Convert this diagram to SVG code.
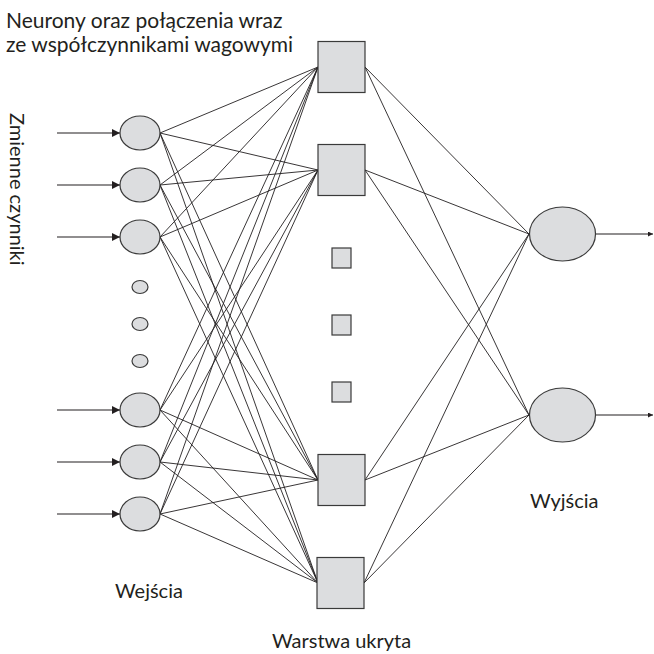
<svg xmlns="http://www.w3.org/2000/svg" width="654" height="654" viewBox="0 0 654 654">
  <defs>
    <marker id="arrow" viewBox="0 0 10 10" refX="10" refY="5" markerWidth="8" markerHeight="8" markerUnits="userSpaceOnUse" orient="auto">
      <path d="M0,0 L10,5 L0,10 z" fill="#231f20"/>
    </marker>
    <marker id="tip" viewBox="0 0 10 10" refX="10" refY="5" markerWidth="5" markerHeight="5" markerUnits="userSpaceOnUse" orient="auto">
      <path d="M0,0 L10,5 L0,10 z" fill="#231f20"/>
    </marker>
  </defs>
  <style>
    .node { fill: #dcdddf; stroke: #3a3a3a; stroke-width: 1.2; }
    .edge { stroke: #231f20; stroke-width: 0.9; fill: none; }
    .io { stroke: #231f20; stroke-width: 1.1; fill: none; }
    .label { font-family: Lato, "Open Sans", sans-serif; font-size: 20px; fill: #231f20; }
    .title { font-size: 21px; }
  </style>
  <rect width="654" height="654" fill="#ffffff"/>

  <!-- connections: inputs to hidden layer, hidden layer to outputs -->
  <g id="connectors">
    <g class="edge">
      <!-- input 1 -->
      <line x1="160" y1="133" x2="318" y2="67"/>
      <line x1="160" y1="133" x2="318" y2="170"/>
      <line x1="160" y1="133" x2="318" y2="480"/>
      <line x1="160" y1="133" x2="318" y2="583"/>
      <!-- input 2 -->
      <line x1="160" y1="185" x2="318" y2="67"/>
      <line x1="160" y1="185" x2="318" y2="170"/>
      <line x1="160" y1="185" x2="318" y2="480"/>
      <line x1="160" y1="185" x2="318" y2="583"/>
      <!-- input 3 -->
      <line x1="160" y1="237" x2="318" y2="67"/>
      <line x1="160" y1="237" x2="318" y2="170"/>
      <line x1="160" y1="237" x2="318" y2="480"/>
      <line x1="160" y1="237" x2="318" y2="583"/>
      <!-- input 4 -->
      <line x1="160" y1="410" x2="318" y2="67"/>
      <line x1="160" y1="410" x2="318" y2="170"/>
      <line x1="160" y1="410" x2="318" y2="480"/>
      <line x1="160" y1="410" x2="318" y2="583"/>
      <!-- input 5 -->
      <line x1="160" y1="462" x2="318" y2="67"/>
      <line x1="160" y1="462" x2="318" y2="170"/>
      <line x1="160" y1="462" x2="318" y2="480"/>
      <line x1="160" y1="462" x2="318" y2="583"/>
      <!-- input 6 -->
      <line x1="160" y1="514" x2="318" y2="67"/>
      <line x1="160" y1="514" x2="318" y2="170"/>
      <line x1="160" y1="514" x2="318" y2="480"/>
      <line x1="160" y1="514" x2="318" y2="583"/>
      <!-- hidden to outputs -->
      <line x1="365" y1="67" x2="529" y2="234"/>
      <line x1="365" y1="67" x2="529" y2="415"/>
      <line x1="365" y1="170" x2="529" y2="234"/>
      <line x1="365" y1="170" x2="529" y2="415"/>
      <line x1="365" y1="480" x2="529" y2="234"/>
      <line x1="365" y1="480" x2="529" y2="415"/>
      <line x1="364" y1="583" x2="529" y2="234"/>
      <line x1="364" y1="583" x2="529" y2="415"/>
    </g>
    <g class="io">
      <!-- incoming signals -->
      <line x1="57" y1="133" x2="120" y2="133" marker-end="url(#arrow)"/>
      <line x1="57" y1="185" x2="120" y2="185" marker-end="url(#arrow)"/>
      <line x1="57" y1="237" x2="120" y2="237" marker-end="url(#arrow)"/>
      <line x1="57" y1="410" x2="120" y2="410" marker-end="url(#arrow)"/>
      <line x1="57" y1="462" x2="120" y2="462" marker-end="url(#arrow)"/>
      <line x1="57" y1="514" x2="120" y2="514" marker-end="url(#arrow)"/>
      <!-- outgoing signals -->
      <line x1="596" y1="234" x2="653" y2="234" marker-end="url(#tip)"/>
      <line x1="596" y1="415" x2="653" y2="415" marker-end="url(#tip)"/>
    </g>
  </g>

  <!-- input layer -->
  <g id="input-1"><ellipse class="node" cx="140" cy="133" rx="20" ry="17"/></g>
  <g id="input-2"><ellipse class="node" cx="140" cy="185" rx="20" ry="17"/></g>
  <g id="input-3"><ellipse class="node" cx="140" cy="237" rx="20" ry="17"/></g>
  <g id="input-dots">
    <ellipse class="node" cx="140" cy="287" rx="8" ry="6.5"/>
    <ellipse class="node" cx="140" cy="324" rx="8" ry="6.5"/>
    <ellipse class="node" cx="140" cy="361" rx="8" ry="6.5"/>
  </g>
  <g id="input-4"><ellipse class="node" cx="140" cy="410" rx="20" ry="17"/></g>
  <g id="input-5"><ellipse class="node" cx="140" cy="462" rx="20" ry="17"/></g>
  <g id="input-6"><ellipse class="node" cx="140" cy="514" rx="20" ry="17"/></g>

  <!-- hidden layer -->
  <g id="hidden-1"><rect class="node" x="318" y="41.5" width="47" height="51"/></g>
  <g id="hidden-2"><rect class="node" x="318" y="144.5" width="47" height="51"/></g>
  <g id="hidden-dots">
    <rect class="node" x="332" y="248" width="19" height="20"/>
    <rect class="node" x="332" y="315" width="19" height="20"/>
    <rect class="node" x="332" y="382" width="19" height="20"/>
  </g>
  <g id="hidden-3"><rect class="node" x="318" y="454.5" width="47" height="51"/></g>
  <g id="hidden-4"><rect class="node" x="317" y="557.5" width="47" height="51"/></g>

  <!-- output layer -->
  <g id="output-1"><ellipse class="node" cx="562.5" cy="234" rx="33" ry="27"/></g>
  <g id="output-2"><ellipse class="node" cx="562.5" cy="415" rx="33" ry="27"/></g>

  <!-- labels -->
  <g id="labels">
    <text class="label title" x="6" y="28">Neurony oraz połączenia wraz</text>
    <text class="label title" x="6" y="52">ze współczynnikami wagowymi</text>
    <text class="label" transform="translate(10,113) rotate(90)">Zmienne czynniki</text>
    <text class="label" x="115" y="598">Wejścia</text>
    <text class="label" x="530" y="508">Wyjścia</text>
    <text class="label" x="272" y="648">Warstwa ukryta</text>
  </g>
</svg>
